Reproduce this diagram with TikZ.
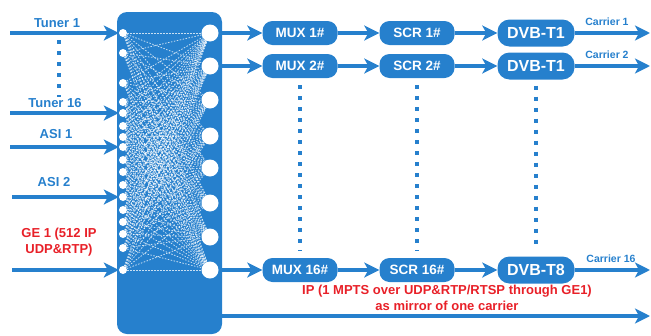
\documentclass[tikz,border=0pt]{standalone}
\usepackage{fontspec}
\setmainfont{Liberation Sans}
\usepackage{tikz}
\usetikzlibrary{arrows.meta,positioning}
\definecolor{sigblue}{RGB}{38,128,205}
\definecolor{notered}{RGB}{232,32,40}
\tikzset{
  flow/.style={-{Stealth[length=15pt,width=15pt,inset=4pt]}, line width=4pt, sigblue},
  stage/.style={rectangle, rounded corners=10pt, fill=sigblue, text=white,
                font=\bfseries\fontsize{13.5}{15}\selectfont,
                minimum width=75pt, minimum height=24pt, inner sep=0pt},
  modbox/.style={stage, rounded corners=12pt, minimum width=77pt, minimum height=27pt,
                 font=\bfseries\fontsize{16}{18}\selectfont},
  switchbox/.style={rectangle, rounded corners=10pt, fill=sigblue,
                    minimum width=105pt, minimum height=322pt, inner sep=0pt},
  inport/.style={circle, fill=white, minimum size=8pt, inner sep=0pt},
  outport/.style={circle, fill=white, minimum size=17pt, inner sep=0pt},
  meshline/.style={white, line width=0.8pt, dash pattern=on 1.5pt off 1.5pt, opacity=0.75},
  vdots/.style={sigblue, line width=3.5pt, dash pattern=on 4pt off 7pt},
  srclabel/.style={text=sigblue, font=\bfseries\fontsize{13}{15}\selectfont},
  carlabel/.style={text=sigblue, font=\bfseries\fontsize{10.5}{12}\selectfont},
  redlabel/.style={text=notered, font=\bfseries\fontsize{13}{16}\selectfont, align=center},
}
\begin{document}
\begin{tikzpicture}[x=1pt,y=-1pt]
  \useasboundingbox (0,0) rectangle (651,335);
  % switch matrix
  \node[switchbox] (xbar) at (169.5,173) {};
  \foreach \y [count=\i] in {33,53,83,102,113,126,137,147,160,172,185,197,210,222,234,248,270}
    \node[inport] (in\i) at (123,\y) {};
  \foreach \y [count=\j] in {33,66,100,136,168,203,237,270}
    \node[outport] (out\j) at (210,\y) {};
  \foreach \i in {1,...,17}
    \foreach \j in {1,...,8}
      \draw[meshline] (in\i) -- (out\j);

  % inputs
  \node[srclabel] (lt1) at (57,23) {Tuner 1};
  \node[srclabel] (lt16) at (55,103) {Tuner 16};
  \node[srclabel] (lasi1) at (56,134) {ASI 1};
  \node[srclabel] (lasi2) at (54,182) {ASI 2};
  \node[redlabel] (lge) at (59,242) {GE 1 (512 IP\\UDP\&RTP)};
  \coordinate (t1src) at (10,33);
  \coordinate (t16src) at (10,113);
  \coordinate (asi1src) at (10,147);
  \coordinate (asi2src) at (12,197);
  \coordinate (gesrc) at (12,270);
  \draw[flow] (t1src) -- (in1);
  \draw[flow] (t16src) -- (in5);
  \draw[flow] (asi1src) -- (in8);
  \draw[flow] (asi2src) -- (in12);
  \draw[flow] (gesrc) -- (in17);
  \coordinate (dtop) at (59,40);
  \coordinate (dbot) at (59,97);
  \draw[vdots] (dtop) -- (dbot);

  % carrier chains
  \node[stage] (mux1) at (300,33) {MUX 1\#};
  \node[stage] (scr1) at (417,33) {SCR 1\#};
  \node[modbox] (dvb1) at (536,33) {DVB-T1};
  \node[stage] (mux2) at (300,66) {MUX 2\#};
  \node[stage] (scr2) at (417,66) {SCR 2\#};
  \node[modbox] (dvb2) at (536,66) {DVB-T1};
  \node[stage] (mux16) at (300,270) {MUX 16\#};
  \node[stage] (scr16) at (417,270) {SCR 16\#};
  \node[modbox] (dvb16) at (536,270) {DVB-T8};
  \coordinate (car1) at (650,33);
  \coordinate (car2) at (650,66);
  \coordinate (car16) at (650,270);
  \foreach \r/\o in {1/1,2/2,16/8}{
    \draw[flow] (out\o) -- (mux\r);
    \draw[flow] (mux\r) -- (scr\r);
    \draw[flow] (scr\r) -- (dvb\r);
    \draw[flow] (dvb\r) -- (car\r);
  }
  \node[carlabel] (lc1) at (607,22) {Carrier 1};
  \node[carlabel] (lc2) at (607,55) {Carrier 2};
  \node[carlabel] (lc16) at (611,259) {Carrier 16};
  \draw[vdots, shorten <=7pt, shorten >=7pt] (mux2) -- (mux16);
  \draw[vdots, shorten <=7pt, shorten >=7pt] (scr2) -- (scr16);
  \draw[vdots, shorten <=6pt, shorten >=6pt] (dvb2) -- (dvb16);

  % IP mirror
  \coordinate (ipsrc) at (222,316);
  \coordinate (ipdst) at (650,316);
  \draw[flow] (ipsrc) -- (ipdst);
  \node[redlabel] (lip) at (447,298) {IP (1 MPTS over UDP\&RTP/RTSP through GE1)\\as mirror of one carrier};
\end{tikzpicture}
\end{document}
